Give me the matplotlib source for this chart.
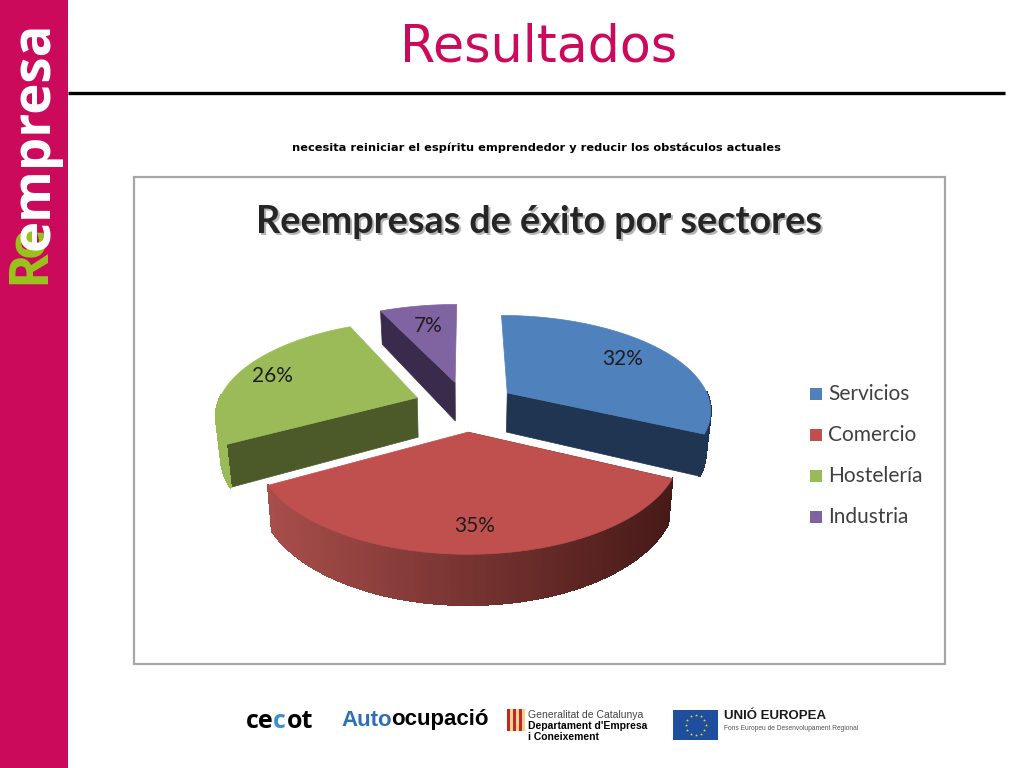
import numpy as np
import matplotlib
matplotlib.use("Agg")
import matplotlib.pyplot as plt
from matplotlib.patches import Polygon, Rectangle
from matplotlib.collections import PolyCollection
from matplotlib.colors import to_rgb

sectors = ["Servicios", "Comercio", "Hostelería", "Industria"]
shares = [32, 35, 26, 7]
top_colors = ["#4f81bd", "#c0504d", "#9bbb59", "#8064a2"]
wall_colors = ["#1f3552", "#5a1f1d", "#4b5a28", "#3a2a4c"]
rim_left = ["#2c4c73", "#a84e4b", "#9bbb59", "#3a2a4c"]
rim_right = ["#1f3552", "#471a18", "#8aa84e", "#3a2a4c"]
explode = [0.24, 0.27, 0.25, 0.25]
scale = [0.98, 0.96, 0.96, 1.03]
label_r = [0.73, 0.77, 0.78, 0.73]

title = "Resultados"
subtitle = "necesita reiniciar el espíritu emprendedor y reducir los obstáculos actuales"
chart_title = "Reempresas de éxito por sectores"

PINK = "#cc0a5c"
CX, CY, RX, RY = 466, 405, 208, 96
P = -0.17
DEPTH = 40
SHRINK = 0.98  # lower face is a little narrower than the top one


def project(X, Y):
    # plane -> pixels, front of the pie comes out bigger
    den = 1 - P * Y
    return CX + RX * X / den, CY - RY * Y / den, DEPTH / den


def low(x):
    return CX + (x - CX) * SHRINK


fig = plt.figure(figsize=(10.24, 7.68), dpi=100)
ax = fig.add_axes([0, 0, 1, 1])
ax.set_xlim(0, 1024)
ax.set_ylim(768, 0)
ax.axis("off")

# slide furniture
ax.add_patch(Rectangle((0, 0), 68, 768, color=PINK, lw=0))
ax.plot([68, 1005], [93, 93], color="black", lw=2.4, solid_capstyle="butt")
ax.text(539, 47, title, color=PINK, fontsize=36.5, ha="center", va="center", family="DejaVu Sans")
ax.text(536, 148, subtitle, color="black", fontsize=8.2, ha="center", va="center",
        family="DejaVu Sans", fontweight="bold")

# side logo
ax.text(57, 284, "R", color="#9ac31c", fontsize=38, rotation=90, ha="right", va="bottom",
        family="Open Sans", fontweight="bold")
ax.text(57, 257, "e", color="#9ac31c", fontsize=38, rotation=90, ha="right", va="bottom",
        family="Open Sans", fontweight="bold")
ax.text(62, 250, "empresa", color="white", fontsize=38, rotation=90, ha="right", va="bottom",
        family="Open Sans", fontweight="bold")

# chart frame
ax.add_patch(Rectangle((134, 177), 811, 487, fc="white", ec="#a6a6a6", lw=1.6))
ax.text(541, 224, chart_title, color="#b5b5b5", fontsize=27.2, ha="center", va="center",
        family="Lato", fontweight="bold")
ax.text(539, 222, chart_title, color="#262626", fontsize=27.2, ha="center", va="center",
        family="Lato", fontweight="bold")

# pie slices, back ones first
edges = np.cumsum([0] + shares) / sum(shares) * 2 * np.pi
for i in [3, 2, 0, 1]:
    a0, a1 = edges[i], edges[i + 1]
    mid = (a0 + a1) / 2
    ox, oy = explode[i] * np.sin(mid), explode[i] * np.cos(mid)
    t = np.linspace(a0, a1, 90)
    px, py, pd = project(ox + scale[i] * np.sin(t), oy + scale[i] * np.cos(t))
    ax0, ay0, ad0 = project(ox, oy)

    # cut wall on the side that faces the viewer
    if i == 0:
        wall_x, wall_y, wall_d = px[-1], py[-1], pd[-1]
    else:
        wall_x, wall_y, wall_d = px[0], py[0], pd[0]
    ax.add_patch(Polygon([(ax0, ay0), (wall_x, wall_y), (low(wall_x), wall_y + wall_d), (low(ax0), ay0 + ad0)],
                         fc=wall_colors[i], ec=wall_colors[i], lw=0.5, zorder=2 + i * 0.1))

    # outer rim, shaded left to right
    quads, cols = [], []
    c0, c1 = np.array(to_rgb(rim_left[i])), np.array(to_rgb(rim_right[i]))
    xmin, xmax = px.min(), px.max()
    for k in range(len(t) - 1):
        if np.cos(t[k]) > 0.02:
            continue
        quads.append([(px[k], py[k]), (px[k + 1], py[k + 1]),
                      (low(px[k + 1]), py[k + 1] + pd[k + 1]), (low(px[k]), py[k] + pd[k])])
        f = (px[k] - xmin) / (xmax - xmin)
        cols.append(c0 + (c1 - c0) * f)
    if quads:
        ax.add_collection(PolyCollection(quads, facecolors=cols, edgecolors=cols, lw=1,
                                         antialiaseds=False, zorder=2 + i * 0.1))

    ax.add_patch(Polygon(np.column_stack([np.r_[ax0, px], np.r_[ay0, py]]), fc=top_colors[i],
                         ec=top_colors[i], lw=0.5, zorder=2.5 + i * 0.1))

    lx, ly, _ = project(ox + label_r[i] * np.sin(mid), oy + label_r[i] * np.cos(mid))
    ax.text(lx, ly, f"{shares[i]}%", color="#1d1d1d", fontsize=15, ha="center", va="center",
            family="Lato", zorder=4)

# legend
for i, name in enumerate(sectors):
    y = 394 + i * 41
    ax.add_patch(Rectangle((810, y - 6), 12, 12, color=top_colors[i], lw=0))
    ax.text(828, y, name, color="#404040", fontsize=15, ha="left", va="center", family="Lato")

# footer logos
ax.text(246, 721, "ce", color="black", fontsize=18, fontweight="bold", ha="left", va="center", family="Open Sans")
ax.text(273, 721, "c", color="#3b8fd0", fontsize=18, fontweight="bold", ha="left", va="center", family="Open Sans")
ax.text(287, 721, "ot", color="black", fontsize=18, fontweight="bold", ha="left", va="center", family="Open Sans")
ax.text(341, 720, "Auto", color="#2f6fb5", fontsize=16, fontweight="bold", ha="left", va="center", family="Liberation Sans")
ax.text(391, 720, "ocupació", color="black", fontsize=16, fontweight="bold", ha="left", va="center", family="Liberation Sans")

for k in range(6):
    c = "#c0272d" if k % 2 == 0 else "#f2d28a"
    ax.add_patch(Rectangle((507 + k * 3, 709), 3, 22, color=c, lw=0))
ax.text(528, 715, "Generalitat de Catalunya", color="#444444", fontsize=7.5, ha="left", va="center", family="Liberation Sans")
ax.text(528, 726, "Departament d'Empresa", color="black", fontsize=7.5, fontweight="bold", ha="left", va="center", family="Liberation Sans")
ax.text(528, 737, "i Coneixement", color="black", fontsize=7.5, fontweight="bold", ha="left", va="center", family="Liberation Sans")

ax.add_patch(Rectangle((673, 710), 45, 30, color="#1d4f9e", lw=0))
star_t = np.arange(12) * np.pi / 6
ax.scatter(695.5 + 10 * np.cos(star_t), 725 + 10 * np.sin(star_t), marker="*", s=5, color="#f5d327", lw=0)
ax.text(724, 716, "UNIÓ EUROPEA", color="#1a1a1a", fontsize=9.5, fontweight="bold", ha="left", va="center", family="Liberation Sans")
ax.text(724, 729, "Fons Europeu de Desenvolupament Regional", color="#555555", fontsize=4.8, ha="left", va="center", family="Liberation Sans")

fig.savefig("out.png", dpi=100)
